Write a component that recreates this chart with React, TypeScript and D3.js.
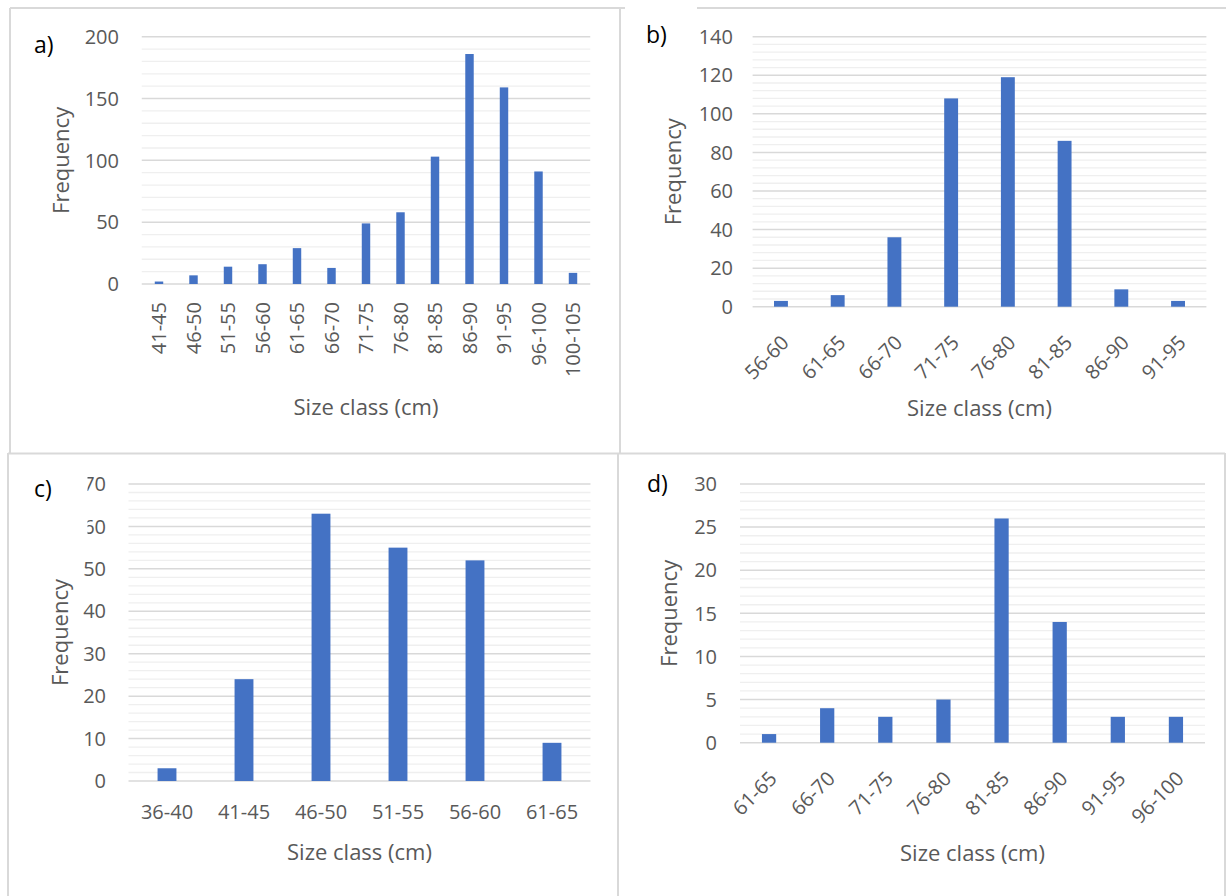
import React from "react";
import * as d3 from "d3";

// ---------- DATA ----------
const aCats = ["41-45", "46-50", "51-55", "56-60", "61-65", "66-70", "71-75", "76-80", "81-85", "86-90", "91-95", "96-100", "100-105"];
const aVals = [2, 7, 14, 16, 29, 13, 49, 58, 103, 186, 159, 91, 9];
const aTicks = [0, 50, 100, 150, 200];

const bCats = ["56-60", "61-65", "66-70", "71-75", "76-80", "81-85", "86-90", "91-95"];
const bVals = [3, 6, 36, 108, 119, 86, 9, 3];
const bTicks = [0, 20, 40, 60, 80, 100, 120, 140];

const cCats = ["36-40", "41-45", "46-50", "51-55", "56-60", "61-65"];
const cVals = [3, 24, 63, 55, 52, 9];
const cTicks = [0, 10, 20, 30, 40, 50, 60, 70];

const dCats = ["61-65", "66-70", "71-75", "76-80", "81-85", "86-90", "91-95", "96-100"];
const dVals = [1, 4, 3, 5, 26, 14, 3, 3];
const dTicks = [0, 5, 10, 15, 20, 25, 30];

const xTitle = "Size class (cm)";
const yTitle = "Frequency";

// ---------- STYLE ----------
const FONT = "'Open Sans', 'Noto Sans', sans-serif";
const BAR = "#4472c4";
const TXT = "#595959";
const MAJOR = "#d9d9d9";
const MINORC = "#efefef";
const BORDER = "#d9d9d9";

type PanelProps = {
  cats: string[];
  vals: number[];
  ticks: number[];
  minorStep: number;
  letter: string;
  x0: number; x1: number; yTop: number; yBot: number;
  tickRight: number;
  labelMode: "vertical" | "diag" | "flat";
  letterX: number; letterY: number;
  titleY: number; freqX: number;
};

function Panel(p: PanelProps) {
  const yMax = p.ticks[p.ticks.length - 1];
  const x = d3.scaleBand<string>().domain(p.cats).range([p.x0, p.x1]).padding(0);
  const y = d3.scaleLinear().domain([0, yMax]).range([p.yBot, p.yTop]);
  const bw = x.bandwidth() * 0.245;
  const minors = d3.range(0, yMax + 1e-9, p.minorStep).filter((v) => !p.ticks.includes(v));
  const cx = (p.x0 + p.x1) / 2;
  const cy = (p.yTop + p.yBot) / 2;
  return (
    <g>
      {minors.map((v) => (
        <line key={"m" + v} x1={p.x0} x2={p.x1} y1={y(v)} y2={y(v)} stroke={MINORC} strokeWidth={1.3} />
      ))}
      {p.ticks.map((v) => (
        <line key={"g" + v} x1={p.x0} x2={p.x1} y1={y(v)} y2={y(v)} stroke={MAJOR} strokeWidth={1.5} />
      ))}
      {p.ticks.map((v) => (
        <text key={"t" + v} x={p.tickRight} y={y(v)} dy="0.36em" textAnchor="end" fontSize={20} fill={TXT}>
          {v}
        </text>
      ))}
      {p.cats.map((c, i) => (
        <rect key={"b" + c} x={(x(c) as number) + (x.bandwidth() - bw) / 2} y={y(p.vals[i])} width={bw}
          height={y(0) - y(p.vals[i])} fill={BAR} />
      ))}
      {p.cats.map((c) => {
        const xc = (x(c) as number) + x.bandwidth() / 2;
        if (p.labelMode === "vertical") {
          return (
            <text key={"l" + c} transform={`translate(${xc},${p.yBot + 18}) rotate(-90)`} dy="0.36em"
              textAnchor="end" fontSize={20} fill={TXT}>{c}</text>
          );
        }
        if (p.labelMode === "diag") {
          return (
            <text key={"l" + c} transform={`translate(${xc + 4},${p.yBot + 32}) rotate(-45)`} dy="0.36em"
              textAnchor="end" fontSize={20} fill={TXT}>{c}</text>
          );
        }
        return (
          <text key={"l" + c} x={xc} y={p.yBot + 31} dy="0.36em" textAnchor="middle" fontSize={20} fill={TXT}>{c}</text>
        );
      })}
      <text x={cx} y={p.titleY} dy="0.36em" textAnchor="middle" fontSize={22} fill={TXT}>{xTitle}</text>
      <text transform={`translate(${p.freqX},${cy}) rotate(-90)`} dy="0.36em" textAnchor="middle" fontSize={22} fill={TXT}>
        {yTitle}
      </text>
      <text x={p.letterX} y={p.letterY} fontSize={23} fill="#000">{p.letter}</text>
    </g>
  );
}

export default function App() {
  return (
    <div style={{ position: "absolute", left: 0, top: 0 }}>
      <svg width={1226} height={896} style={{ display: "block", fontFamily: FONT }}>
        <rect x={0} y={0} width={1226} height={896} fill="#fff" />
        {/* frames */}
        <g stroke={BORDER} strokeWidth={2} fill="none">
          <line x1={10} x2={625} y1={8} y2={8} />
          <line x1={697} x2={1226} y1={8} y2={8} />
          <line x1={10} x2={10} y1={8} y2={453} />
          <line x1={620} x2={620} y1={8} y2={453} />
          <line x1={8} x2={1225} y1={453.5} y2={453.5} />
          <line x1={8} x2={8} y1={453} y2={896} />
          <line x1={618} x2={618} y1={453} y2={896} />
          <line x1={1225} x2={1225} y1={453} y2={896} />
        </g>
        <Panel cats={aCats} vals={aVals} ticks={aTicks} minorStep={10} letter="a)"
          x0={141.75} x1={590.25} yTop={36.7} yBot={284} tickRight={119} labelMode="vertical"
          letterX={34} letterY={53} titleY={407} freqX={61} />
        <Panel cats={bCats} vals={bVals} ticks={bTicks} minorStep={4} letter="b)"
          x0={752.6} x1={1206.4} yTop={36.7} yBot={306.7} tickRight={733} labelMode="diag"
          letterX={646} letterY={43} titleY={408} freqX={673} />
        <Panel cats={cCats} vals={cVals} ticks={cTicks} minorStep={2} letter="c)"
          x0={128.5} x1={590.5} yTop={484} yBot={781} tickRight={106} labelMode="flat"
          letterX={34} letterY={497} titleY={852} freqX={60} />
        <Panel cats={dCats} vals={dVals} ticks={dTicks} minorStep={1} letter="d)"
          x0={740} x1={1205} yTop={484} yBot={742.7} tickRight={717} labelMode="diag"
          letterX={647} letterY={492} titleY={853} freqX={669} />
        {/* clipped tick labels in panel c (as in the reference) */}
        <rect x={70} y={468} width={17.5} height={72} fill="#fff" />
      </svg>
    </div>
  );
}
